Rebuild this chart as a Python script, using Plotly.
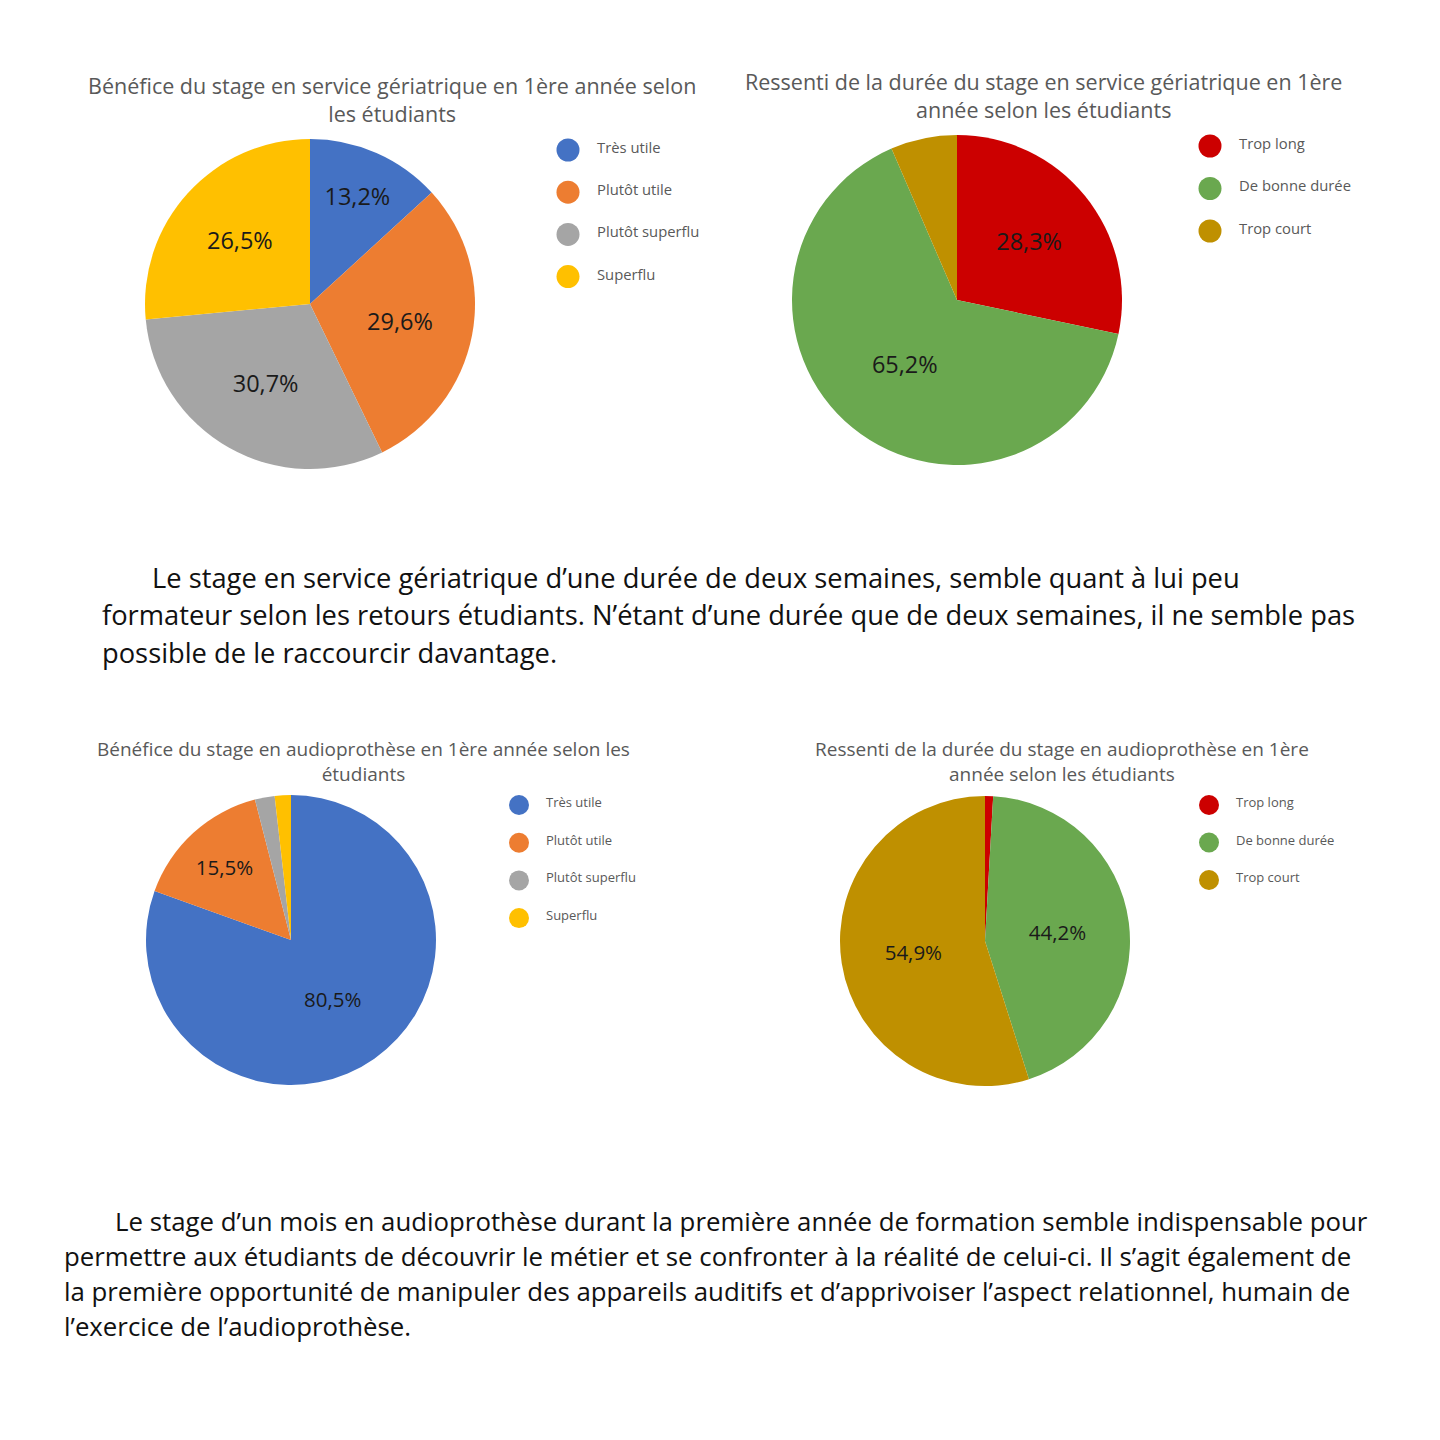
import plotly.graph_objects as go

W = H = 1440
OFF = 8  # page body margin

# ---------------- data ----------------
benefit_labels = ["Très utile", "Plutôt utile", "Plutôt superflu", "Superflu"]
duration_labels = ["Trop long", "De bonne durée", "Trop court"]

geri_benefit = [13.2, 29.6, 30.7, 26.5]
geri_duration = [28.3, 65.2, 6.5]
audio_benefit = [80.5, 15.5, 2.2, 1.8]
audio_duration = [0.9, 44.2, 54.9]

geri_benefit_show = [True, True, True, True]
geri_duration_show = [True, True, False]
audio_benefit_show = [True, True, False, False]
audio_duration_show = [False, True, True]

title1 = "Bénéfice du stage en service gériatrique en 1ère année selon<br>les étudiants"
title2 = "Ressenti de la durée du stage en service gériatrique en 1ère<br>année selon les étudiants"
title3 = "Bénéfice du stage en audioprothèse en 1ère année selon les<br>étudiants"
title4 = "Ressenti de la durée du stage en audioprothèse en 1ère<br>année selon les étudiants"

para1 = [
    "Le stage en service gériatrique d’une durée de deux semaines, semble quant à lui peu",
    "formateur selon les retours étudiants. N’étant d’une durée que de deux semaines, il ne semble pas",
    "possible de le raccourcir davantage.",
]
para2 = [
    "Le stage d’un mois en audioprothèse durant la première année de formation semble indispensable pour",
    "permettre aux étudiants de découvrir le métier et se confronter à la réalité de celui-ci. Il s’agit également de",
    "la première opportunité de manipuler des appareils auditifs et d’apprivoiser l’aspect relationnel, humain de",
    "l’exercice de l’audioprothèse.",
]

benefit_colors = ["#4472C4", "#ED7D31", "#A5A5A5", "#FFC000"]
duration_colors = ["#CC0000", "#6AA84F", "#BF9000"]

FONT = "Open Sans"
GREY = "#595959"


def px(x):
    return (x - OFF) / W


def py(y):
    return 1 - (y - OFF) / H


def fmt(vals, show):
    return [(f"{v:.1f}%".replace(".", ",") if s else "") for v, s in zip(vals, show)]


fig = go.Figure()
shapes = []
annotations = []


def add_chart(vals, labels, colors, show, cx, cy, r, title, tx, ty, tsize,
              lx, ly0, ldy, lr, lsize, label_size):
    fig.add_trace(go.Pie(
        values=vals, labels=labels, sort=False, direction="clockwise", rotation=0,
        marker=dict(colors=colors, line=dict(width=0)),
        text=fmt(vals, show), textinfo="text", textposition="inside",
        insidetextorientation="horizontal",
        textfont=dict(family=FONT, size=label_size, color="#1a1a1a"),
        hoverinfo="label+percent", showlegend=False,
        domain=dict(x=[px(cx - r), px(cx + r)], y=[py(cy + r), py(cy - r)]),
    ))
    annotations.append(dict(
        x=px(tx), y=py(ty), xref="paper", yref="paper", text=title,
        showarrow=False, xanchor="center", yanchor="middle", align="center",
        font=dict(family=FONT, size=tsize, color=GREY)))
    for i, (lab, col) in enumerate(zip(labels, colors)):
        yy = ly0 + i * ldy
        shapes.append(dict(type="circle", xref="paper", yref="paper",
                           x0=px(lx - lr), x1=px(lx + lr), y0=py(yy + lr), y1=py(yy - lr),
                           fillcolor=col, line=dict(width=0)))
        annotations.append(dict(
            x=px(lx + lr + 15), y=py(yy - 3), xref="paper", yref="paper", text=lab,
            showarrow=False, xanchor="left", yanchor="middle",
            font=dict(family=FONT, size=lsize, color=GREY)))


add_chart(geri_benefit, benefit_labels, benefit_colors, geri_benefit_show,
          310, 304, 165, title1, 392, 99, 21.5, 568, 150, 42.2, 11.5, 14.8, 23.5)
add_chart(geri_duration, duration_labels, duration_colors, geri_duration_show,
          957, 300, 165, title2, 1043, 95, 21.5, 1210, 146, 42.5, 11.5, 14.8, 23.5)
add_chart(audio_benefit, benefit_labels, benefit_colors, audio_benefit_show,
          291, 940, 145, title3, 363, 761, 19, 519, 805, 37.7, 10, 13, 20.5)
add_chart(audio_duration, duration_labels, duration_colors, audio_duration_show,
          985, 941, 145, title4, 1062, 761, 19, 1209, 805, 37.5, 10, 13, 20.5)

for i, line in enumerate(para1):
    annotations.append(dict(
        x=px(150 if i == 0 else 100), y=py(578 + i * 37), xref="paper", yref="paper",
        text=line, showarrow=False, xanchor="left", yanchor="middle",
        font=dict(family=FONT, size=27.3, color="#111111")))

for i, line in enumerate(para2):
    annotations.append(dict(
        x=px(113 if i == 0 else 62), y=py(1221 + i * 35), xref="paper", yref="paper",
        text=line, showarrow=False, xanchor="left", yanchor="middle",
        font=dict(family=FONT, size=25.8, color="#111111")))

fig.update_layout(
    width=W, height=H, margin=dict(l=0, r=0, t=0, b=0),
    paper_bgcolor="white", plot_bgcolor="white",
    shapes=shapes, annotations=annotations,
)

fig.write_html("out.html")
